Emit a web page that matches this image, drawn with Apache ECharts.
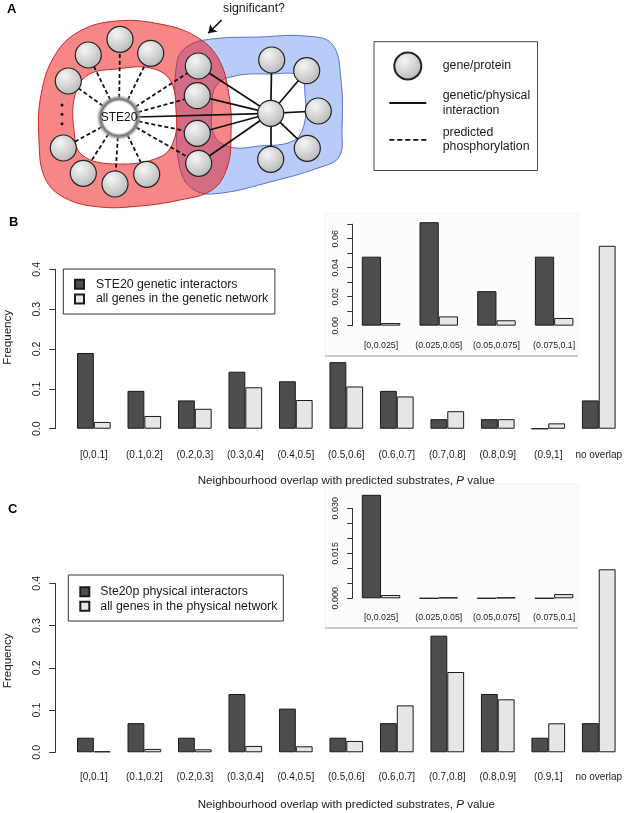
<!DOCTYPE html>
<html>
<head>
<meta charset="utf-8">
<script src="https://cdn.jsdelivr.net/npm/echarts@6/dist/echarts.min.js"></script>
<style>
html, body { margin: 0; padding: 0; background: #fff; }
#main { width: 626px; height: 813px; }
</style>
</head>
<body>
<div id="main"></div>
<script>
// ---- data ----
const bins = ['[0,0.1]', '(0.1,0.2]', '(0.2,0.3]', '(0.3,0.4]', '(0.4,0.5]', '(0.5,0.6]',
  '(0.6,0.7]', '(0.7,0.8]', '(0.8,0.9]', '(0.9,1]', 'no overlap'];
const insetBins = ['[0,0.025]', '(0.025,0.05]', '(0.05,0.075]', '(0.075,0.1]'];

// panel B (genetic network)
const ste20Genetic = [0.190, 0.095, 0.071, 0.143, 0.119, 0.167, 0.095, 0.024, 0.024, 0, 0.071];
const allGenetic = [0.017, 0.032, 0.050, 0.104, 0.072, 0.106, 0.081, 0.044, 0.024, 0.0135, 0.459];
const ste20GeneticInset = [0.0476, 0.0714, 0.0238, 0.0476];
const allGeneticInset = [0.0018, 0.0064, 0.0037, 0.0053];

// panel C (physical network)
const ste20Physical = [0.0345, 0.069, 0.0345, 0.138, 0.1034, 0.0345, 0.069, 0.276, 0.138, 0.0345, 0.069];
const allPhysical = [0.0024, 0.0079, 0.0071, 0.015, 0.0142, 0.0268, 0.111, 0.190, 0.1254, 0.0686, 0.433];
const ste20PhysicalInset = [0.0345, 0, 0, 0];
const allPhysicalInset = [0.0011, 0.0003, 0.0003, 0.0014];

// panel A diagram, in diagram units
const ste20Pos = [119, 117.5];
const hubPos = [270.7, 113.3];
const substratePos = [[120, 39.3], [150.7, 53.3], [88.3, 55], [68.3, 81], [63.3, 148],
  [83.3, 173.3], [115, 184], [146.7, 174.3]];
const sharedPos = [[198.3, 66], [197.3, 95.7], [197.3, 133.3], [198.7, 163.3]];
const partnerPos = [[271.7, 60], [306.7, 70.7], [318.3, 111], [307.3, 148.3], [270.7, 159.3]];
const ellipsisPos = [[62, 105], [62, 114.3], [62, 123.7]];
const arrowPos = [[221.7, 20], [208.3, 33.3]];

const blueOuter = [[177, 62], [188, 46], [212, 39], [260, 37], [305, 36], [332, 44], [341, 80],
  [342, 130], [339, 157], [318, 168], [270, 182], [222, 193], [196, 191], [181, 172], [176, 120]];
const blueInner = [[216, 86], [235, 76], [270, 74], [300, 76], [305, 95], [304, 125], [293, 141],
  [260, 146], [230, 147], [214, 135], [212, 110]];
const redOuter = [[117, 21], [160, 24], [195, 36], [218, 58], [229, 95], [231, 135], [227, 168],
  [212, 190], [180, 200], [140, 206], [100, 207], [65, 198], [45, 178], [39, 140], [41, 95],
  [55, 55], [80, 31]];
const redInner = [[117, 69], [150, 68], [170, 80], [176, 110], [174, 140], [160, 157], [117, 164],
  [82, 155], [74, 130], [75, 95], [88, 75]];

// ---- style ----
const FONT = 'Liberation Sans, Arial, Helvetica, sans-serif';
const INK = '#1a1a1a';
const DARK = '#4d4d4d';
const LIGHT = '#e6e6e6';

const blobs = [blueOuter, blueInner, redOuter, redInner];
const blobStyle = [
  { fill: '#b9cbf8', stroke: '#5574d6' },
  { fill: '#ffffff', stroke: '#5574d6' },
  { fill: 'rgba(240,15,15,0.5)', stroke: '#c52a2a' },
  { fill: '#ffffff', stroke: '#c52a2a' }
];

const solidEdges = sharedPos.concat(partnerPos, [ste20Pos]).map(p => ({ coords: [hubPos, p] }));
const dashedEdges = substratePos.concat(sharedPos).map(p => ({ coords: [ste20Pos, p] }));
const geneNodes = substratePos.concat(sharedPos, partnerPos, [hubPos]);

const nodeFill = new echarts.graphic.RadialGradient(0.38, 0.32, 0.75, [
  { offset: 0, color: '#f6f6f6' }, { offset: 1, color: '#b4b4b4' }
]);

function bar(name, data, idx, dark) {
  return {
    type: 'bar', name: name, data: data, xAxisIndex: idx, yAxisIndex: idx,
    barGap: '0%', barCategoryGap: '33.33%', silent: true, z: 3,
    itemStyle: { color: dark ? DARK : LIGHT, borderColor: INK, borderWidth: 1 }
  };
}

function shownY(idx, max, interval, offset, fontSize, margin, tick, fmt) {
  return {
    gridIndex: idx, type: 'value', min: 0, max: max, interval: interval, offset: offset,
    axisLine: { show: true, lineStyle: { color: '#333', width: 1 } },
    axisTick: { show: true, length: tick, lineStyle: { color: '#333', width: 1 } },
    axisLabel: { rotate: 90, fontSize: fontSize, color: INK, margin: margin, fontFamily: FONT, formatter: fmt },
    splitLine: { show: false }
  };
}

function hiddenY(idx, min, max, name) {
  return {
    gridIndex: idx, type: 'value', min: min, max: max,
    axisLine: { show: false }, axisTick: { show: false }, axisLabel: { show: false },
    splitLine: { show: false },
    name: name || '', nameLocation: 'middle', nameGap: 55,
    nameTextStyle: { fontSize: 11.6, color: INK, fontFamily: FONT }
  };
}

function mainX(idx, margin) {
  return {
    gridIndex: idx, type: 'category', data: bins,
    axisLine: { show: false, onZero: false }, axisTick: { show: false },
    axisLabel: { interval: 0, fontSize: 10, color: INK, margin: margin, fontFamily: FONT },
    name: 'Neighbourhood overlap with predicted substrates, {i|P} value',
    nameLocation: 'middle', nameGap: 39,
    nameTextStyle: { fontSize: 11.6, color: INK, fontFamily: FONT,
      rich: { i: { fontStyle: 'italic', fontSize: 11.6, color: INK, fontFamily: FONT } } }
  };
}

function insetX(idx) {
  return {
    gridIndex: idx, type: 'category', data: insetBins,
    axisLine: { show: false, onZero: false }, axisTick: { show: false },
    axisLabel: { interval: 0, fontSize: 8.8, color: INK, margin: 11, fontFamily: FONT }
  };
}

function barLegend(names, left, top, pad, textPad) {
  return {
    orient: 'vertical', left: left, top: top, padding: pad,
    itemWidth: 9, itemHeight: 9, itemGap: 0, icon: 'rect', selectedMode: false,
    borderColor: '#333', borderWidth: 1,
    textStyle: { fontSize: 12.3, lineHeight: 14.7, color: INK, fontFamily: FONT, padding: [0, 0, 0, textPad] },
    data: names
  };
}

function box(left, right, top, bottom) {
  return { left: left, right: right, top: top, bottom: bottom, outerBoundsMode: 'none', containLabel: false };
}

const option = {
  animation: false,
  backgroundColor: '#fff',
  textStyle: { fontFamily: FONT },
  title: [
    { text: 'A', left: 7, top: 3, padding: 0, textStyle: { fontSize: 13, fontWeight: 'bold', color: '#000', fontFamily: FONT } },
    { text: 'B', left: 9, top: 216, padding: 0, textStyle: { fontSize: 13, fontWeight: 'bold', color: '#000', fontFamily: FONT } },
    { text: 'C', left: 8, top: 503, padding: 0, textStyle: { fontSize: 13, fontWeight: 'bold', color: '#000', fontFamily: FONT } },
    { text: 'significant?', left: 223, top: 3, padding: 0, textStyle: { fontSize: 12.4, fontWeight: 'normal', color: INK, fontFamily: FONT } }
  ],
  legend: [
    {
      orient: 'vertical', left: 374, top: 41.7, padding: [9.8, 7.3, 16.4, 15.3],
      itemWidth: 37, itemHeight: 27, itemGap: 8.2, selectedMode: false,
      borderColor: '#444', borderWidth: 1,
      textStyle: { fontSize: 12.3, lineHeight: 14.3, color: INK, fontFamily: FONT, padding: [0, 0, 0, 11.4] },
      data: [
        { name: 'gene/protein', icon: 'circle' },
        { name: 'genetic/physical\ninteraction', icon: 'path://M0 0h37v1.8h-37z', itemStyle: { color: '#111', borderWidth: 0 } },
        { name: 'predicted\nphosphorylation', icon: 'path://M0 0h5v1.8h-5z M8 0h5v1.8h-5z M16 0h5v1.8h-5z M24 0h5v1.8h-5z M32 0h5v1.8h-5z', itemStyle: { color: '#111', borderWidth: 0 } }
      ]
    },
    barLegend(['STE20 genetic interactors', 'all genes in the genetic network'], 63.3, 269, [8, 6.6, 7.6, 10.7], 7),
    barLegend(['Ste20p physical interactors', 'all genes in the physical network'], 68.3, 575, [9.3, 6, 7.3, 11], 6)
  ],
  graphic: [
    { type: 'rect', shape: { x: 325, y: 213, width: 253, height: 143 }, style: { fill: '#fcfcfc', stroke: '#f3f3f3' }, z: 0, silent: true },
    { type: 'line', shape: { x1: 325, y1: 356, x2: 578, y2: 356 }, style: { stroke: '#c8c8c8', lineWidth: 2 }, z: 0, silent: true },
    { type: 'rect', shape: { x: 325, y: 484, width: 253, height: 144 }, style: { fill: '#fcfcfc', stroke: '#f3f3f3' }, z: 0, silent: true },
    { type: 'line', shape: { x1: 325, y1: 628, x2: 578, y2: 628 }, style: { stroke: '#c8c8c8', lineWidth: 2 }, z: 0, silent: true }
  ],
  grid: [
    { left: 0, top: 0, width: 360, height: 215, outerBoundsMode: 'none', containLabel: false },
    box(68.6, 2, 238.6, 377.1),
    box(68.6, 2, 269.3, 384.3),
    box(352.2, 43, 218, 483),
    box(352.2, 43, 224.2, 487.3),
    box(68.6, 2, 562, 53.4),
    box(68.6, 2, 583.3, 60.7),
    box(352.2, 43, 491.2, 210.6),
    box(352.2, 43, 508.3, 214.7)
  ],
  xAxis: [
    { gridIndex: 0, type: 'value', min: 0, max: 360, show: false },
    mainX(1, 14.5),
    { gridIndex: 2, type: 'category', data: bins, show: false },
    insetX(3),
    { gridIndex: 4, type: 'category', data: insetBins, show: false },
    mainX(5, 12.5),
    { gridIndex: 6, type: 'category', data: bins, show: false },
    insetX(7),
    { gridIndex: 8, type: 'category', data: insetBins, show: false }
  ],
  yAxis: [
    { gridIndex: 0, type: 'value', min: 0, max: 215, inverse: true, show: false },
    hiddenY(1, -0.018, 0.477, 'Frequency'),
    shownY(2, 0.4, 0.1, 13.3, 10.6, 13, 6, v => v.toFixed(1)),
    hiddenY(3, -0.003, 0.0743),
    shownY(4, 0.07, 0.01, 0, 9, 12, 5, v => (Math.round(v * 100) % 2 === 0 ? v.toFixed(2) : '')),
    hiddenY(5, -0.0173, 0.4503, 'Frequency'),
    shownY(6, 0.4, 0.1, 13.3, 10.6, 13, 6, v => v.toFixed(1)),
    hiddenY(7, -0.00137, 0.0357),
    shownY(8, 0.03, 0.005, 0, 9, 12, 5, v => (Math.round(v * 1000) % 15 === 0 ? v.toFixed(3) : ''))
  ],
  series: [
    // panel A
    {
      type: 'custom', name: 'blobs', coordinateSystem: 'cartesian2d', xAxisIndex: 0, yAxisIndex: 0,
      silent: true, z: 1,
      data: blobs.map((b, i) => [i, 0]),
      renderItem: function (params, api) {
        const i = params.dataIndex;
        return {
          type: 'polygon',
          shape: { points: blobs[i].map(p => api.coord(p)), smooth: 0.4 },
          style: { fill: blobStyle[i].fill, stroke: blobStyle[i].stroke, lineWidth: 1 }
        };
      }
    },
    {
      type: 'lines', name: 'genetic/physical\ninteraction', coordinateSystem: 'cartesian2d',
      xAxisIndex: 0, yAxisIndex: 0, z: 2, silent: true,
      lineStyle: { color: '#111', width: 1.7, opacity: 1, type: 'solid' },
      itemStyle: { color: '#111' },
      data: solidEdges
    },
    {
      type: 'lines', name: 'predicted\nphosphorylation', coordinateSystem: 'cartesian2d',
      xAxisIndex: 0, yAxisIndex: 0, z: 2, silent: true,
      lineStyle: { color: '#111', width: 1.8, opacity: 1, type: [4, 2.6] },
      itemStyle: { color: '#111' },
      data: dashedEdges
    },
    {
      type: 'lines', name: 'arrow', coordinateSystem: 'cartesian2d',
      xAxisIndex: 0, yAxisIndex: 0, z: 2, silent: true,
      symbol: ['none', 'arrow'], symbolSize: 8,
      lineStyle: { color: '#111', width: 1.6, opacity: 1 },
      data: [{ coords: arrowPos }]
    },
    {
      type: 'scatter', name: 'gene/protein', xAxisIndex: 0, yAxisIndex: 0, z: 4, silent: true,
      symbol: 'circle', symbolSize: 26,
      itemStyle: { color: nodeFill, borderColor: '#222', borderWidth: 1.2, opacity: 1 },
      data: geneNodes
    },
    {
      type: 'scatter', name: 'STE20', xAxisIndex: 0, yAxisIndex: 0, z: 5, silent: true,
      symbol: 'circle', symbolSize: 46,
      itemStyle: {
        opacity: 1,
        color: new echarts.graphic.RadialGradient(0.5, 0.5, 0.5, [
          { offset: 0, color: '#ffffff' }, { offset: 0.68, color: '#ffffff' },
          { offset: 0.8, color: '#6e6e6e' }, { offset: 0.9, color: 'rgba(150,150,150,0.6)' },
          { offset: 1, color: 'rgba(255,255,255,0)' }
        ])
      },
      label: { show: true, position: 'inside', formatter: 'STE20', fontSize: 12, color: '#111', fontFamily: FONT },
      data: [ste20Pos]
    },
    {
      type: 'scatter', name: 'ellipsis', xAxisIndex: 0, yAxisIndex: 0, z: 4, silent: true,
      symbolSize: 3, itemStyle: { color: '#111', opacity: 1 },
      data: ellipsisPos
    },
    // panel B
    bar('STE20 genetic interactors', ste20Genetic, 1, true),
    bar('all genes in the genetic network', allGenetic, 1, false),
    bar('STE20 genetic interactors', ste20GeneticInset, 3, true),
    bar('all genes in the genetic network', allGeneticInset, 3, false),
    // panel C
    bar('Ste20p physical interactors', ste20Physical, 5, true),
    bar('all genes in the physical network', allPhysical, 5, false),
    bar('Ste20p physical interactors', ste20PhysicalInset, 7, true),
    bar('all genes in the physical network', allPhysicalInset, 7, false)
  ]
};

const chart = echarts.init(document.getElementById('main'), null, { renderer: 'canvas' });
chart.setOption(option);
</script>
</body>
</html>
